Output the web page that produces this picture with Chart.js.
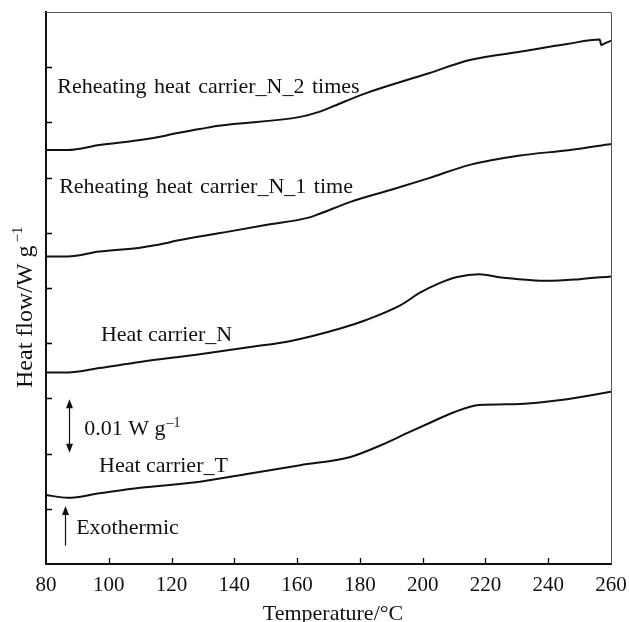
<!DOCTYPE html>
<html>
<head>
<meta charset="utf-8">
<script src="https://cdn.jsdelivr.net/npm/chart.js@4.4.0/dist/chart.umd.min.js"></script>
<style>
html, body { margin: 0; padding: 0; background: #fff; }
</style>
</head>
<body>
<canvas id="dsc" width="629" height="622"></canvas>
<script>
// values (y in arbitrary heat-flow units, 1 tick = 1 unit)
const tempT = [80, 87, 97, 110, 129, 145, 161, 177, 187, 195, 202, 210, 218, 231, 244, 260];
const flowT = [1.25, 1.20, 1.28, 1.38, 1.49, 1.64, 1.79, 1.94, 2.16, 2.37, 2.55, 2.75, 2.88, 2.90, 2.97, 3.12];

const tempN = [80, 87, 97, 110, 129, 145, 158, 174, 182, 193, 199, 205, 211, 218, 225, 233, 240, 250, 260];
const flowN = [3.47, 3.47, 3.55, 3.66, 3.80, 3.93, 4.04, 4.27, 4.42, 4.69, 4.91, 5.08, 5.20, 5.25, 5.19, 5.15, 5.13, 5.16, 5.21];

const tempN1 = [80, 87, 97, 110, 118, 121, 135, 150, 164, 167, 177, 190, 202, 215, 231, 247, 260];
const flowN1 = [5.57, 5.57, 5.66, 5.73, 5.81, 5.85, 5.99, 6.14, 6.28, 6.34, 6.56, 6.78, 6.99, 7.23, 7.40, 7.50, 7.61];

const tempN2 = [80, 87, 97, 110, 118, 121, 129, 135, 161, 167, 171, 182, 202, 215, 231, 246, 256.4, 256.9, 258, 260];
const flowN2 = [7.50, 7.50, 7.59, 7.68, 7.76, 7.80, 7.88, 7.94, 8.10, 8.19, 8.28, 8.53, 8.89, 9.13, 9.28, 9.42, 9.50, 9.40, 9.43, 9.48];

const xTickValues = [100, 120, 140, 160, 180, 200, 220, 240];
const yTickValues = [1, 2, 3, 4, 5, 6, 7, 8, 9];

const serif = "'Liberation Serif', 'Times New Roman', serif";

function pairs(xs, ys) {
    return xs.map((t, i) => ({ x: t, y: ys[i] }));
}

function series(label, xs, ys) {
    return {
        label: label,
        data: pairs(xs, ys),
        borderColor: '#111',
        borderWidth: 2,
        pointRadius: 0,
        fill: false,
        cubicInterpolationMode: 'monotone'
    };
}

// text labels placed in data coordinates
const notes = [
    { text: 'Reheating heat carrier_N_2 times', x: 83.6, y: 8.53 },
    { text: 'Reheating heat carrier_N_1 time', x: 84.2, y: 6.72 },
    { text: 'Heat carrier_N', x: 97.5, y: 4.045 },
    { text: 'Heat carrier_T', x: 96.9, y: 1.66 },
    { text: 'Exothermic', x: 89.6, y: 0.543 }
];

function arrowHead(ctx, x, y, dir) {
    ctx.beginPath();
    ctx.moveTo(x, y);
    ctx.lineTo(x - 3.5, y - dir * 9);
    ctx.lineTo(x + 3.5, y - dir * 9);
    ctx.closePath();
    ctx.fill();
}

const decor = {
    id: 'decor',
    afterDraw(chart) {
        const { ctx, chartArea: a, scales: { x, y } } = chart;
        ctx.save();

        // thin top / right frame
        ctx.strokeStyle = '#555';
        ctx.lineWidth = 1;
        ctx.beginPath();
        ctx.moveTo(a.left, a.top + 0.5);
        ctx.lineTo(a.right + 0.5, a.top + 0.5);
        ctx.lineTo(a.right + 0.5, a.bottom);
        ctx.stroke();

        // inward ticks
        ctx.strokeStyle = '#000';
        ctx.lineWidth = 1.3;
        ctx.beginPath();
        xTickValues.forEach(t => {
            const px = Math.round(x.getPixelForValue(t)) + 0.5;
            ctx.moveTo(px, a.bottom);
            ctx.lineTo(px, a.bottom - 6);
        });
        yTickValues.forEach(t => {
            const py = Math.round(y.getPixelForValue(t)) + 0.5;
            ctx.moveTo(a.left, py);
            ctx.lineTo(a.left + 6, py);
        });
        ctx.stroke();

        // curve labels
        ctx.fillStyle = '#111';
        ctx.font = '22px ' + serif;
        ctx.textAlign = 'left';
        ctx.textBaseline = 'alphabetic';
        notes.forEach(n => {
            ctx.wordSpacing = n.text.startsWith('Reheating') ? '2px' : '0px';
            ctx.fillText(n.text, x.getPixelForValue(n.x), y.getPixelForValue(n.y));
        });
        ctx.wordSpacing = '0px';

        // scale bar label with superscript
        let sx = x.getPixelForValue(92.2), sy = y.getPixelForValue(2.337);
        ctx.fillText('0.01 W g', sx, sy);
        let w = ctx.measureText('0.01 W g').width;
        ctx.font = '14px ' + serif;
        ctx.fillText('\u20131', sx + w + 1, sy - 8);

        // scale bar double arrow
        ctx.strokeStyle = '#111';
        ctx.lineWidth = 1.2;
        let ax = Math.round(x.getPixelForValue(87.4)) + 0.5;
        let top = y.getPixelForValue(2.984), bot = y.getPixelForValue(2.016);
        ctx.beginPath();
        ctx.moveTo(ax, top + 4);
        ctx.lineTo(ax, bot - 4);
        ctx.stroke();
        arrowHead(ctx, ax, top, -1);
        arrowHead(ctx, ax, bot, 1);

        // exothermic arrow
        let ex = Math.round(x.getPixelForValue(86.15)) + 0.5;
        let eTop = y.getPixelForValue(1.051), eBot = y.getPixelForValue(0.332);
        ctx.beginPath();
        ctx.moveTo(ex, eBot);
        ctx.lineTo(ex, eTop + 4);
        ctx.stroke();
        arrowHead(ctx, ex, eTop, -1);

        // x title
        ctx.font = '22px ' + serif;
        ctx.textAlign = 'center';
        ctx.fillText('Temperature/\u00b0C', 333, 620);

        // y title (rotated) with superscript
        ctx.translate(31.5, 388);
        ctx.rotate(-Math.PI / 2);
        ctx.textAlign = 'left';
        ctx.font = '24px ' + serif;
        ctx.fillText('Heat flow/W g', 0, 0);
        w = ctx.measureText('Heat flow/W g').width;
        ctx.font = '15px ' + serif;
        ctx.fillText('\u22121', w + 3, -10);

        ctx.restore();
    }
};

new Chart(document.getElementById('dsc'), {
    type: 'line',
    data: {
        datasets: [
            series('Heat carrier_T', tempT, flowT),
            series('Heat carrier_N', tempN, flowN),
            series('Reheating heat carrier_N_1 time', tempN1, flowN1),
            series('Reheating heat carrier_N_2 times', tempN2, flowN2)
        ]
    },
    options: {
        responsive: false,
        animation: false,
        layout: { padding: { top: 12, right: 18, left: 0, bottom: 0 } },
        plugins: {
            legend: { display: false },
            tooltip: { enabled: false }
        },
        scales: {
            x: {
                type: 'linear',
                min: 80,
                max: 260,
                ticks: {
                    stepSize: 20,
                    color: '#111',
                    font: { family: serif, size: 21 },
                    padding: 9,
                    maxRotation: 0
                },
                grid: { display: false, drawTicks: false },
                border: { display: true, color: '#111', width: 2 },
                afterFit: s => {
                    s.height = 58;
                    s.paddingLeft = 0;
                    s.paddingRight = 0;
                }
            },
            y: {
                min: 0,
                max: 10,
                ticks: { display: false, stepSize: 1 },
                grid: { display: false, drawTicks: false },
                border: { display: true, color: '#111', width: 2 },
                afterFit: s => { s.width = 46; }
            }
        }
    },
    plugins: [decor]
});
</script>
</body>
</html>
